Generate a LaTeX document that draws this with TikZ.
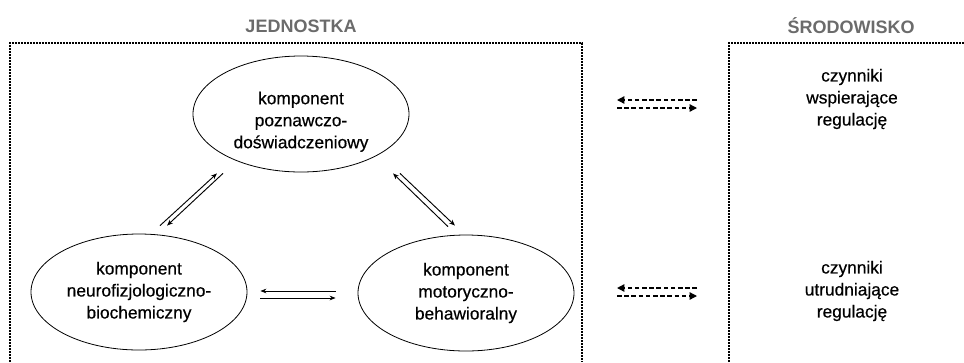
\documentclass[tikz,border=0pt]{standalone}
\usepackage{fontspec}
\setmainfont{Liberation Sans}
\newfontfamily\bodyfont{Liberation Sans}[FakeBold=0.5]
\usetikzlibrary{shapes.geometric,arrows.meta}
\definecolor{headgray}{HTML}{6B6B6B}
\begin{document}
\begin{tikzpicture}[x=0.75pt,y=-0.75pt,
  comp/.style={ellipse,draw,line width=0.6pt,minimum width=162pt,minimum height=87pt,
    inner sep=0pt,align=center,font=\bodyfont\fontsize{13}{16.5}\selectfont},
  factor/.style={align=center,font=\bodyfont\fontsize{13}{16.5}\selectfont},
  header/.style={font=\fontsize{13.5}{15}\selectfont\bfseries,text=headgray},
  frame/.style={line width=1.4pt,dash pattern=on 1.2pt off 1.05pt},
  link/.style={line width=0.7pt,-{Stealth[length=4.5pt,width=3.5pt]}},
  envlink/.style={line width=1pt,dash pattern=on 3.4pt off 2pt,-{Triangle[length=5.5pt,width=5.5pt]}}]
  \useasboundingbox (0,0) rectangle (964,362);

  % section headers
  \node[header] (hj) at (301,26) {JEDNOSTKA};
  \node[header] (hs) at (851,26) {ŚRODOWISKO};

  % open-bottom frames
  \draw[frame] (10,362) -- (10,43) -- (582,43) -- (582,362);
  \draw[frame] (729,362) -- (729,43) -- (964,43);

  % components of the individual
  \node[comp,text height=54pt] (top) at (301,114) {komponent\\poznawczo-\\doświadczeniowy};
  \node[comp] (bl) at (139,292) {komponent\\neurofizjologiczno-\\biochemiczny};
  \node[comp] (br) at (466,293) {komponent\\motoryczno-\\behawioralny};

  % environmental factors
  \node[factor] (s1) at (852,99) {czynniki\\wspierające\\regulację};
  \node[factor] (s2) at (852,291) {czynniki\\utrudniające\\regulację};

  % reciprocal links between components
  \draw[link] ([shift={(21,-8)}]bl.north) -- ([shift={(-84,1)}]top.south);
  \draw[link] ([shift={(-78,1)}]top.south) -- ([shift={(28,-8)}]bl.north);
  \draw[link] ([shift={(-18,-8)}]br.north) -- ([shift={(92,1)}]top.south);
  \draw[link] ([shift={(99,1)}]top.south) -- ([shift={(-11,-9)}]br.north);
  \draw[link] ([shift={(-22,-2)}]br.west) -- ([shift={(13,-1)}]bl.east);
  \draw[link] ([shift={(13,6)}]bl.east) -- ([shift={(-22,5)}]br.west);

  % links between individual and environment
  \draw[envlink] ([shift={(-155,1)}]s1.center) -- ([shift={(-235,1)}]s1.center);
  \draw[envlink] ([shift={(-235,9)}]s1.center) -- ([shift={(-155,9)}]s1.center);
  \draw[envlink] ([shift={(-155,-3)}]s2.center) -- ([shift={(-235,-3)}]s2.center);
  \draw[envlink] ([shift={(-235,5)}]s2.center) -- ([shift={(-155,5)}]s2.center);
\end{tikzpicture}
\end{document}
